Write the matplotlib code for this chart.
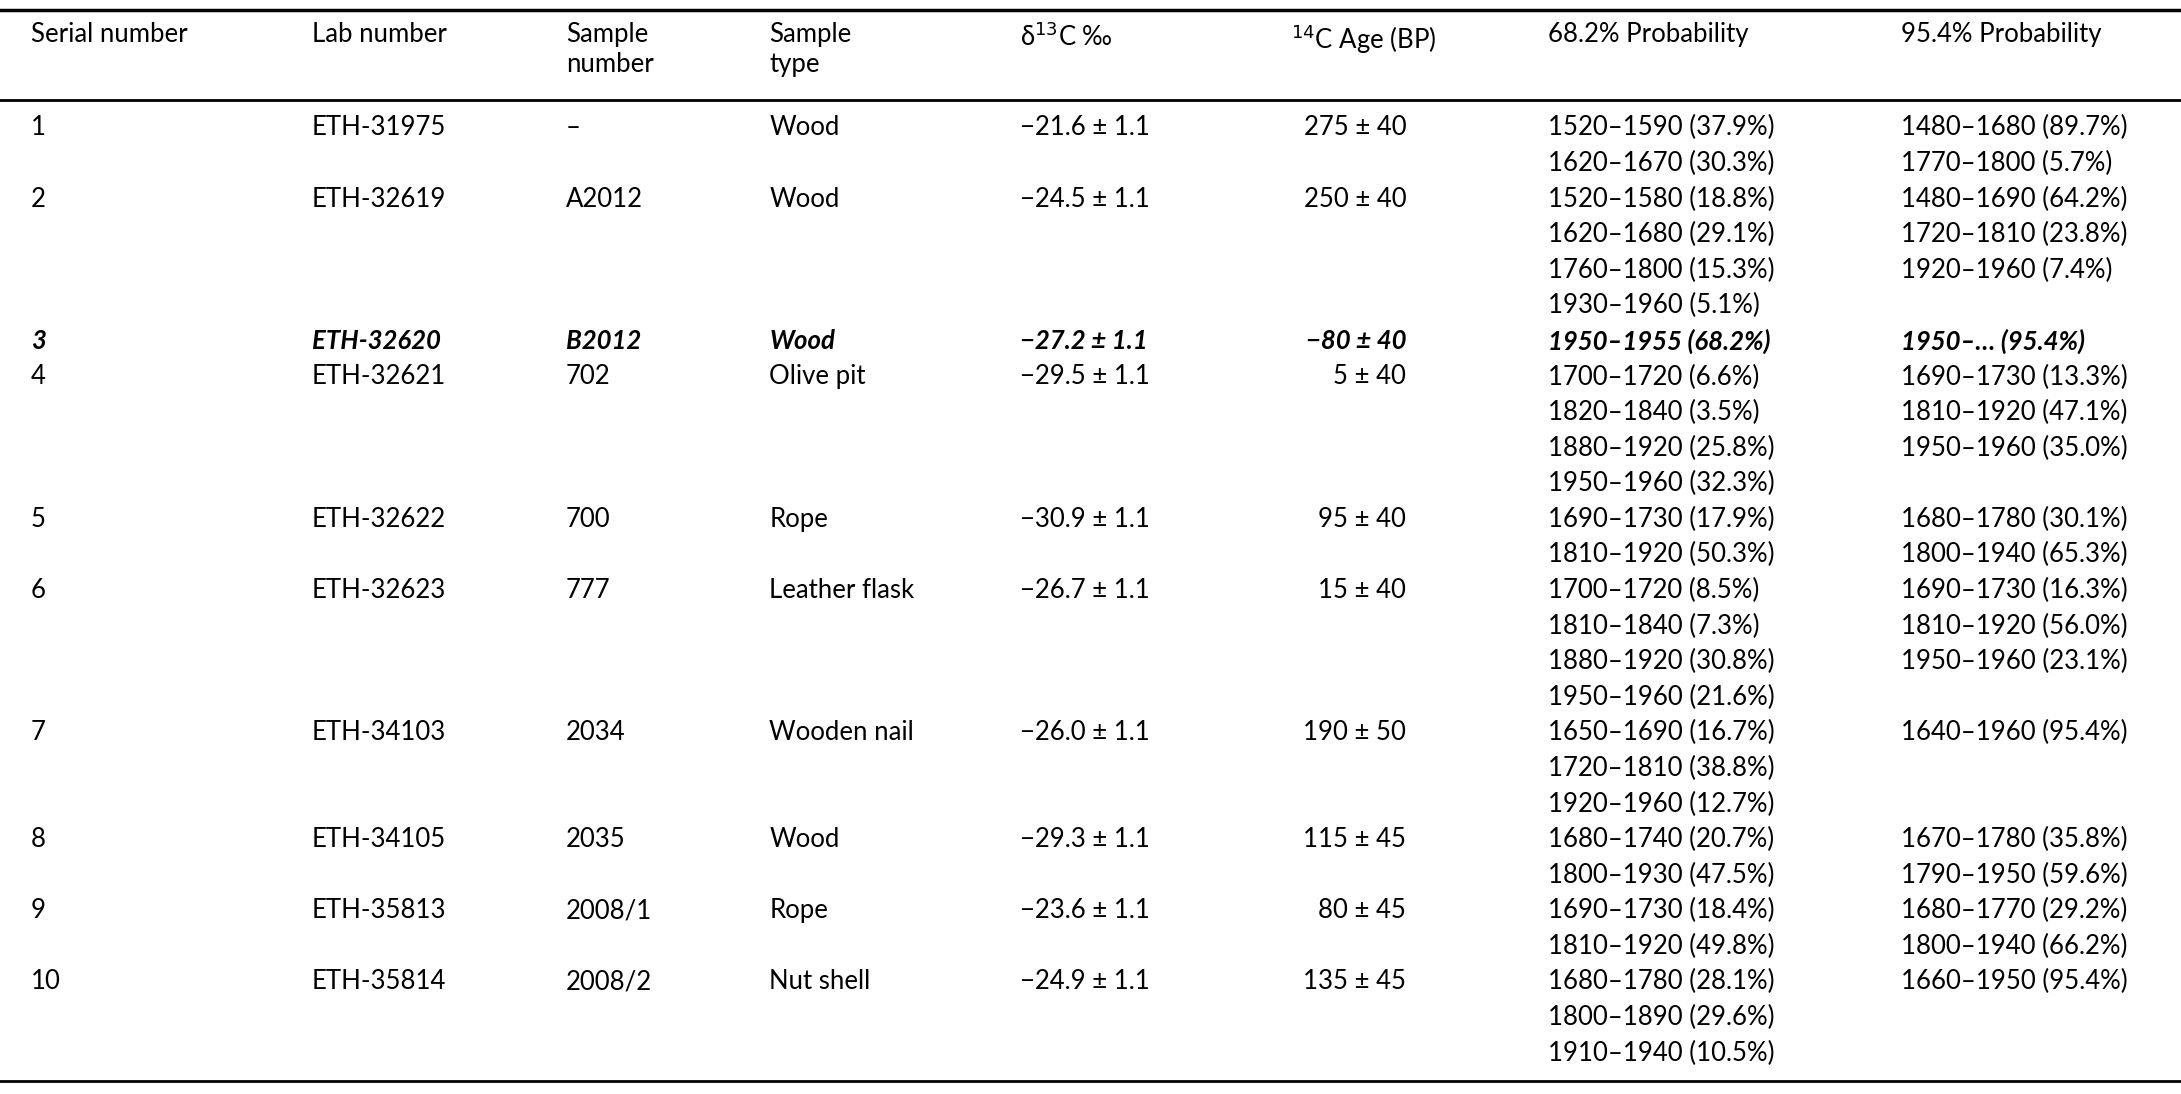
import matplotlib.pyplot as plt

plt.rcParams['font.family'] = ['Lato', 'DejaVu Sans']

headers = ["Serial number", "Lab number", "Sample\nnumber", "Sample\ntype",
           "δ$^{13}$C ‰", "$^{14}$C Age (BP)", "68.2% Probability", "95.4% Probability"]
serial = ["1", "2", "3", "4", "5", "6", "7", "8", "9", "10"]
lab = ["ETH-31975", "ETH-32619", "ETH-32620", "ETH-32621", "ETH-32622",
       "ETH-32623", "ETH-34103", "ETH-34105", "ETH-35813", "ETH-35814"]
sample_no = ["–", "A2012", "B2012", "702", "700", "777", "2034", "2035", "2008/1", "2008/2"]
sample_type = ["Wood", "Wood", "Wood", "Olive pit", "Rope", "Leather flask",
               "Wooden nail", "Wood", "Rope", "Nut shell"]
d13c = ["−21.6 ± 1.1", "−24.5 ± 1.1", "−27.2 ± 1.1", "−29.5 ± 1.1", "−30.9 ± 1.1",
        "−26.7 ± 1.1", "−26.0 ± 1.1", "−29.3 ± 1.1", "−23.6 ± 1.1", "−24.9 ± 1.1"]
age = ["275 ± 40", "250 ± 40", "−80 ± 40", "5 ± 40", "95 ± 40",
       "15 ± 40", "190 ± 50", "115 ± 45", "80 ± 45", "135 ± 45"]
prob68 = [
    ["1520–1590 (37.9%)", "1620–1670 (30.3%)"],
    ["1520–1580 (18.8%)", "1620–1680 (29.1%)", "1760–1800 (15.3%)", "1930–1960 (5.1%)"],
    ["1950–1955 (68.2%)"],
    ["1700–1720 (6.6%)", "1820–1840 (3.5%)", "1880–1920 (25.8%)", "1950–1960 (32.3%)"],
    ["1690–1730 (17.9%)", "1810–1920 (50.3%)"],
    ["1700–1720 (8.5%)", "1810–1840 (7.3%)", "1880–1920 (30.8%)", "1950–1960 (21.6%)"],
    ["1650–1690 (16.7%)", "1720–1810 (38.8%)", "1920–1960 (12.7%)"],
    ["1680–1740 (20.7%)", "1800–1930 (47.5%)"],
    ["1690–1730 (18.4%)", "1810–1920 (49.8%)"],
    ["1680–1780 (28.1%)", "1800–1890 (29.6%)", "1910–1940 (10.5%)"],
]
prob95 = [
    ["1480–1680 (89.7%)", "1770–1800 (5.7%)"],
    ["1480–1690 (64.2%)", "1720–1810 (23.8%)", "1920–1960 (7.4%)"],
    ["1950–… (95.4%)"],
    ["1690–1730 (13.3%)", "1810–1920 (47.1%)", "1950–1960 (35.0%)"],
    ["1680–1780 (30.1%)", "1800–1940 (65.3%)"],
    ["1690–1730 (16.3%)", "1810–1920 (56.0%)", "1950–1960 (23.1%)"],
    ["1640–1960 (95.4%)"],
    ["1670–1780 (35.8%)", "1790–1950 (59.6%)"],
    ["1680–1770 (29.2%)", "1800–1940 (66.2%)"],
    ["1660–1950 (95.4%)"],
]
highlight = 2  # row in bold italic

W, H = 1568, 787
fig = plt.figure(figsize=(21.81, 10.94), dpi=100)
ax = fig.add_axes([0, 0, 1, 1])
ax.set_xlim(0, W)
ax.set_ylim(H, 0)
ax.axis('off')

col_x = [22, 224, 407, 553, 733, 928, 1113, 1367]
age_right = 1011
fs = 18.5
lh = 25.6

ax.axhline(7, color='black', lw=2.5)
ax.axhline(72, color='black', lw=2.0)
ax.axhline(778, color='black', lw=2.0)

for x, h in zip(col_x, headers):
    ax.text(x, 16, h, fontsize=fs, va='top', ha='left', linespacing=1.25)

y = 92
for i in range(len(serial)):
    kw = dict(fontsize=fs, va='center')
    if i == highlight:
        kw.update(fontweight='bold', fontstyle='italic')
    ax.text(col_x[0], y, serial[i], ha='left', **kw)
    ax.text(col_x[1], y, lab[i], ha='left', **kw)
    ax.text(col_x[2], y, sample_no[i], ha='left', **kw)
    ax.text(col_x[3], y, sample_type[i], ha='left', **kw)
    ax.text(col_x[4], y, d13c[i], ha='left', **kw)
    ax.text(age_right, y, age[i], ha='right', **kw)
    for j, s in enumerate(prob68[i]):
        ax.text(col_x[6], y + j * lh, s, ha='left', **kw)
    for j, s in enumerate(prob95[i]):
        ax.text(col_x[7], y + j * lh, s, ha='left', **kw)
    y += lh * max(len(prob68[i]), len(prob95[i]))

fig.savefig("out.png", dpi=100)
